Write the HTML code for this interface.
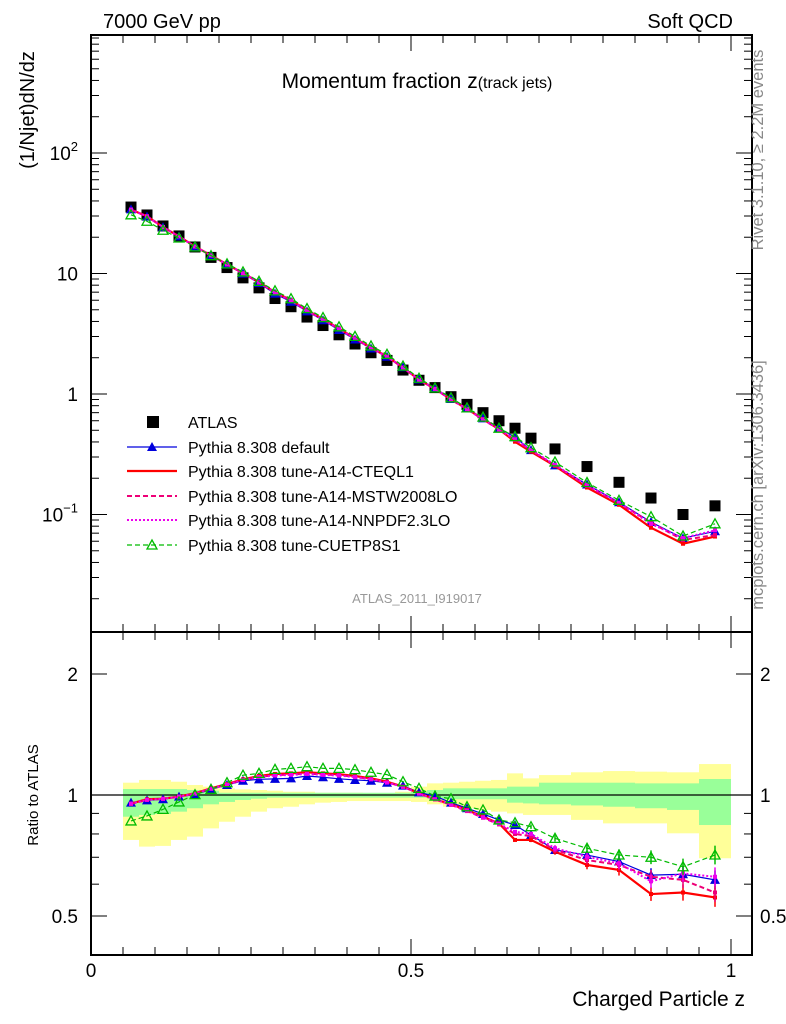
<!DOCTYPE html>
<html><head><meta charset="utf-8"><style>
body{margin:0;background:#fff;}
svg{display:block;font-family:"Liberation Sans",sans-serif;}
</style></head><body>
<svg id="chart" width="786" height="1024" viewBox="0 0 786 1024" xmlns="http://www.w3.org/2000/svg">
<g id="bands"></g>
<g id="axes"></g>
<g id="series"></g>
<text x="103" y="28" font-size="20">7000 GeV pp</text>
<text x="733" y="28" font-size="20" text-anchor="end">Soft QCD</text>
<text x="417" y="88" font-size="21" text-anchor="middle">Momentum fraction z<tspan font-size="16">(track jets)</tspan></text>
<text transform="translate(34,110) rotate(-90)" font-size="20" text-anchor="middle">(1/Njet)dN/dz</text>
<text transform="translate(38,795) rotate(-90)" font-size="15" text-anchor="middle">Ratio to ATLAS</text>
<text x="745" y="1006" font-size="21" text-anchor="end">Charged Particle z</text>
<text transform="translate(763,150) rotate(-90)" font-size="16.5" fill="#888" text-anchor="middle">Rivet 3.1.10, ≥ 2.2M events</text>
<text transform="translate(763,485) rotate(-90)" font-size="16.5" fill="#888" text-anchor="middle">mcplots.cern.ch [arXiv:1306.3436]</text>
<text x="417" y="603" font-size="13" fill="#999" text-anchor="middle">ATLAS_2011_I919017</text>
<g id="legend"></g>
</svg>
<script>
const binLo=[0.05,0.075,0.1,0.125,0.15,0.175,0.2,0.225,0.25,0.275,0.3,0.325,0.35,0.375,0.4,0.425,0.45,0.475,0.5,0.525,0.55,0.575,0.6,0.625,0.65,0.675,0.7,0.75,0.8,0.85,0.9,0.95];
const binHi=[0.075,0.1,0.125,0.15,0.175,0.2,0.225,0.25,0.275,0.3,0.325,0.35,0.375,0.4,0.425,0.45,0.475,0.5,0.525,0.55,0.575,0.6,0.625,0.65,0.675,0.7,0.75,0.8,0.85,0.9,0.95,1.0];
const atlas=[35.6,30.6,24.8,20.5,16.6,13.6,11.2,9.2,7.6,6.2,5.3,4.35,3.7,3.1,2.6,2.2,1.9,1.58,1.3,1.13,0.95,0.82,0.70,0.60,0.52,0.43,0.35,0.25,0.185,0.137,0.10,0.118];
const rDefault=[0.957,0.970,0.976,0.991,1.002,1.033,1.059,1.085,1.094,1.097,1.100,1.115,1.107,1.097,1.090,1.085,1.073,1.055,1.015,0.994,0.957,0.927,0.897,0.867,0.842,0.795,0.730,0.709,0.683,0.632,0.635,0.615];
const rCTEQ=[0.952,0.976,0.979,0.991,1.010,1.039,1.065,1.094,1.115,1.128,1.132,1.139,1.132,1.126,1.115,1.100,1.079,1.049,1.010,0.976,0.948,0.918,0.883,0.850,0.773,0.773,0.723,0.670,0.651,0.567,0.572,0.556];
const rMSTW=[0.950,0.972,0.978,0.990,1.008,1.037,1.062,1.090,1.110,1.120,1.125,1.130,1.125,1.120,1.110,1.095,1.075,1.048,1.008,0.975,0.945,0.912,0.878,0.845,0.800,0.790,0.730,0.689,0.670,0.626,0.615,0.572];
const rNNPDF=[0.952,0.973,0.978,0.990,1.008,1.036,1.062,1.090,1.108,1.118,1.122,1.128,1.122,1.118,1.108,1.094,1.074,1.048,1.008,0.976,0.947,0.915,0.880,0.848,0.810,0.800,0.737,0.702,0.676,0.610,0.638,0.626];
const rCUETP=[0.862,0.887,0.921,0.961,1.002,1.033,1.073,1.120,1.132,1.158,1.165,1.176,1.165,1.165,1.156,1.139,1.124,1.079,1.039,0.994,0.979,0.935,0.918,0.867,0.853,0.834,0.780,0.737,0.709,0.700,0.663,0.709];
const yelHi=[1.073,1.090,1.090,1.079,1.059,1.049,1.039,1.033,1.029,1.025,1.019,1.019,1.013,1.013,1.013,1.010,1.010,1.019,1.049,1.069,1.073,1.079,1.085,1.090,1.132,1.100,1.121,1.139,1.147,1.143,1.139,1.194];
const yelLo=[0.773,0.744,0.747,0.773,0.788,0.826,0.858,0.883,0.909,0.927,0.935,0.948,0.957,0.961,0.966,0.966,0.966,0.966,0.961,0.948,0.935,0.927,0.918,0.909,0.900,0.892,0.892,0.867,0.850,0.850,0.803,0.696];
const grnHi=[1.035,1.035,1.035,1.035,1.029,1.025,1.013,1.013,1.013,1.013,1.013,1.013,1.013,1.013,1.013,1.013,1.013,1.013,1.019,1.029,1.039,1.039,1.039,1.039,1.049,1.049,1.073,1.073,1.073,1.069,1.069,1.096];
const grnLo=[0.883,0.892,0.897,0.909,0.927,0.948,0.961,0.972,0.979,0.985,0.985,0.985,0.985,0.985,0.985,0.985,0.985,0.985,0.985,0.979,0.976,0.976,0.976,0.976,0.957,0.953,0.948,0.942,0.935,0.927,0.918,0.842];

const NS='http://www.w3.org/2000/svg';
const X0=91,X1=752,Y0=35,YM=632,Y1=955;
const xs=z=>91+640*z;
const ys=v=>394-120.5*Math.log10(v);
const yr=r=>795-121*Math.log2(r);
function mk(tag,attrs,parent){const e=document.createElementNS(NS,tag);for(const k in attrs)e.setAttribute(k,attrs[k]);parent.appendChild(e);return e;}
const bands=document.getElementById('bands'),axes=document.getElementById('axes'),ser=document.getElementById('series'),leg=document.getElementById('legend');
const centers=binLo.map((l,i)=>(l+binHi[i])/2);

for(let i=0;i<binLo.length;i++){
  const y=mk('rect',{x:xs(binLo[i]),y:yr(yelHi[i]),width:xs(binHi[i])-xs(binLo[i]),height:yr(yelLo[i])-yr(yelHi[i]),fill:'#ffff99',stroke:'none'},bands);
  
  
  const g=mk('rect',{x:xs(binLo[i]),y:yr(grnHi[i]),width:xs(binHi[i])-xs(binLo[i]),height:yr(grnLo[i])-yr(grnHi[i]),fill:'#99ff99',stroke:'none'},bands);
  
  
}
const f1=mk('rect',{x:X0,y:Y0,width:X1-X0,height:YM-Y0,fill:'none',stroke:'#000','stroke-width':2},axes);


const f2=mk('rect',{x:X0,y:YM,width:X1-X0,height:Y1-YM,fill:'none',stroke:'#000','stroke-width':2},axes);


const ul=mk('line',{x1:X0,x2:X1,y1:yr(1),y2:yr(1),stroke:'#000','stroke-width':1.3},axes);


for(let k=0;k<=20;k++){const z=k*0.05,x=xs(z);const L=(k%10==0)?16:8;
  mk('line',{x1:x,x2:x,y1:Y0,y2:Y0+L,stroke:'#000'},axes);
  mk('line',{x1:x,x2:x,y1:YM,y2:YM-L,stroke:'#000'},axes);
  mk('line',{x1:x,x2:x,y1:YM,y2:YM+L,stroke:'#000'},axes);
  mk('line',{x1:x,x2:x,y1:Y1,y2:Y1-L,stroke:'#000'},axes);}
const xl=['0','0.5','1'];
xl.forEach((t,i)=>{const e=mk('text',{x:xs(i*0.5),y:977,'font-size':19,'text-anchor':'middle'},axes);e.textContent=t;
  
  });
for(let d=-2;d<=2;d++){for(let m=1;m<=9;m++){const v=m*Math.pow(10,d);const y=ys(v);if(y<Y0||y>YM)continue;const L=m==1?16:8;
  mk('line',{x1:X0,x2:X0+L,y1:y,y2:y,stroke:'#000'},axes);mk('line',{x1:X1,x2:X1-L,y1:y,y2:y,stroke:'#000'},axes);}}
const yLab=[['10',-1],['1',0],['10',1],['10',2]];
yLab.forEach(([t,p])=>{const y=ys(Math.pow(10,p))+7;const e=mk('text',{x:78,y:y,'font-size':19,'text-anchor':'end'},axes);
  
  
  if(p==-1||p==2){e.textContent='10';const s=mk('tspan',{dy:-9,'font-size':13},e);s.textContent=p==-1?'−1':'2';}else e.textContent=t;});
[0.5,0.6,0.7,0.8,0.9,1,2].forEach(r=>{const y=yr(r);const L=(r==0.5||r==1||r==2)?16:8;
  mk('line',{x1:X0,x2:X0+L,y1:y,y2:y,stroke:'#000'},axes);mk('line',{x1:X1,x2:X1-L,y1:y,y2:y,stroke:'#000'},axes);});
['2','1','0.5'].forEach(t=>{const y=yr(parseFloat(t))+7;
  const a=mk('text',{x:78,y:y,'font-size':19,'text-anchor':'end'},axes);a.textContent=t;
  
  
  const b=mk('text',{x:760,y:y,'font-size':19},axes);b.textContent=t;
  
  });

const styles=[
 {name:'Pythia 8.308 default',r:rDefault,c:'#0000dd',w:1.2,dash:'',mk:'tri'},
 {name:'Pythia 8.308 tune-A14-CTEQL1',r:rCTEQ,c:'#ff0000',w:2.2,dash:'',mk:'sq'},
 {name:'Pythia 8.308 tune-A14-MSTW2008LO',r:rMSTW,c:'#ee0077',w:2,dash:'5,3',mk:'sq'},
 {name:'Pythia 8.308 tune-A14-NNPDF2.3LO',r:rNNPDF,c:'#ee00ee',w:2,dash:'2,2',mk:'sq'},
 {name:'Pythia 8.308 tune-CUETP8S1',r:rCUETP,c:'#00bb00',w:1.2,dash:'5,3',mk:'otri'}];
function marker(type,x,y,c,parent){
  if(type=='tri')return mk('polygon',{points:`${x},${y-5} ${x-5},${y+4} ${x+5},${y+4}`,fill:c},parent);
  if(type=='otri')return mk('polygon',{points:`${x},${y-5} ${x-5},${y+4} ${x+5},${y+4}`,fill:'none',stroke:c,'stroke-width':1.3},parent);
  return mk('rect',{x:x-2,y:y-2,width:4,height:4,fill:c},parent);
}
atlas.forEach((v,i)=>{const r=mk('rect',{x:xs(centers[i])-5.5,y:ys(v)-5.5,width:11,height:11,fill:'#000'},ser);
  
  });
styles.forEach(s=>{
  const mainPts=centers.map((z,i)=>xs(z)+','+ys(atlas[i]*s.r[i])).join(' ');
  const l=mk('polyline',{points:mainPts,fill:'none',stroke:s.c,'stroke-width':s.w,'stroke-dasharray':s.dash},ser);
  
  
  const ratioPts=centers.map((z,i)=>xs(z)+','+yr(s.r[i])).join(' ');
  const l2=mk('polyline',{points:ratioPts,fill:'none',stroke:s.c,'stroke-width':s.w,'stroke-dasharray':s.dash},ser);
  
  
  centers.forEach((z,i)=>{
    const m1=marker(s.mk,xs(z),ys(atlas[i]*s.r[i]),s.c,ser);
    
    
    const m2=marker(s.mk,xs(z),yr(s.r[i]),s.c,ser);
    
    
    if(z>0.6){const e=(z-0.6)*25;mk('line',{x1:xs(z),x2:xs(z),y1:yr(s.r[i])-e,y2:yr(s.r[i])+e,stroke:s.c,'stroke-width':1.5},ser);}
  });
});
const ly=[422,447,471,496,520,545];
const a=mk('rect',{x:147,y:ly[0]-6,width:12,height:12,fill:'#000'},leg);


const at=mk('text',{x:188,y:ly[0]+6,'font-size':16},leg);at.textContent='ATLAS';


styles.forEach((s,i)=>{const y=ly[i+1];
  mk('line',{x1:127,x2:177,y1:y,y2:y,stroke:s.c,'stroke-width':s.w,'stroke-dasharray':s.dash},leg);
  if(s.mk!='sq')marker(s.mk,152,y,s.c,leg);
  const t=mk('text',{x:188,y:y+6,'font-size':16},leg);t.textContent=s.name;
  
  });
</script>
</body></html>
